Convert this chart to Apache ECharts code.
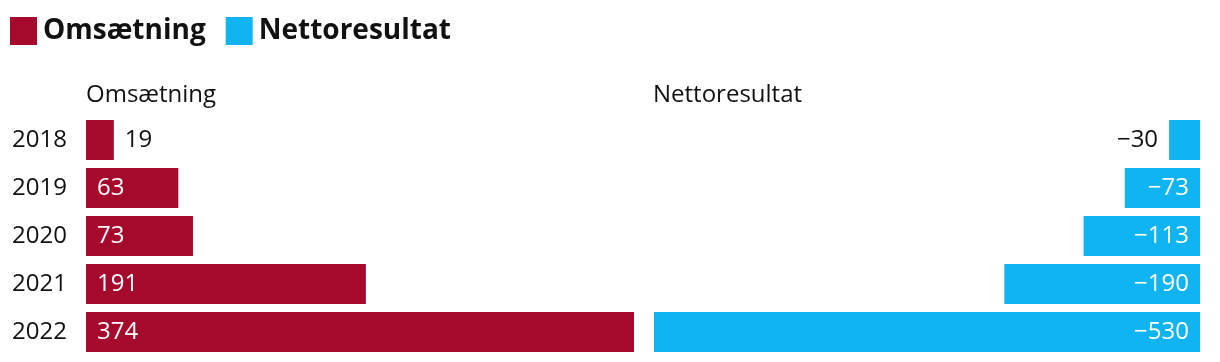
<!DOCTYPE html>
<html><head><meta charset="utf-8">
<script src="https://cdn.jsdelivr.net/npm/echarts@6/dist/echarts.min.js"></script>
<style>html,body{margin:0;padding:0;background:#fff}#c{width:1220px;height:362px}</style>
</head><body><div id="c"></div>
<script>
const years = ['2018','2019','2020','2021','2022'];
const omsaetning = [19, 63, 73, 191, 374];
const nettoresultat = [-30, -73, -113, -190, -530];
const seriesNames = ['Omsætning', 'Nettoresultat'];

const RED = '#a50a2d', BLUE = '#10b4f0', TXT = '#111';
const FONT = '"Open Sans", sans-serif';
const fmt = v => String(v).replace('-', '\u2212');

const chart = echarts.init(document.getElementById('c'), null, {renderer: 'canvas'});
chart.setOption({
  animation: false,
  textStyle: {fontFamily: FONT},
  legend: {
    left: 10, top: 17, padding: 0, itemWidth: 27, itemHeight: 28, itemGap: 20, icon: 'rect',
    textStyle: {fontFamily: FONT, fontSize: 28, fontWeight: 'bold', color: TXT, padding: [2,0,0,1]},
    data: seriesNames
  },
  title: [
    {text: seriesNames[0], left: 86, top: 83, padding: 0, textStyle: {fontFamily: FONT, fontSize: 24, fontWeight: 'normal', color: TXT}},
    {text: seriesNames[1], left: 653, top: 83, padding: 0, textStyle: {fontFamily: FONT, fontSize: 24, fontWeight: 'normal', color: TXT}}
  ],
  grid: [
    {left: 86, width: 548, top: 116, height: 240},
    {left: 654, width: 546, top: 116, height: 240}
  ],
  xAxis: [
    {gridIndex: 0, type: 'value', min: 0, max: 374, show: false},
    {gridIndex: 1, type: 'value', min: -530, max: 0, show: false}
  ],
  yAxis: [
    {gridIndex: 0, type: 'category', data: years, inverse: true,
     axisLine: {show: false}, axisTick: {show: false},
     axisLabel: {margin: 19, fontFamily: FONT, fontSize: 24, color: TXT}},
    {gridIndex: 1, type: 'category', data: years, inverse: true, show: false}
  ],
  series: [
    {name: seriesNames[0], type: 'bar', xAxisIndex: 0, yAxisIndex: 0, barCategoryGap: '16.67%',
     itemStyle: {color: RED},
     data: omsaetning.map(v => ({
       value: v,
       label: v < 40
         ? {show: true, position: 'right', distance: 11, color: TXT}
         : {show: true, position: 'insideLeft', distance: 11, color: '#fff'}
     })),
     label: {fontFamily: FONT, fontSize: 24, formatter: p => fmt(p.value)}
    },
    {name: seriesNames[1], type: 'bar', xAxisIndex: 1, yAxisIndex: 1, barCategoryGap: '16.67%',
     itemStyle: {color: BLUE},
     data: nettoresultat.map(v => ({
       value: v,
       label: v > -50
         ? {show: true, position: 'left', distance: 11, color: TXT}
         : {show: true, position: 'insideRight', distance: 11, color: '#fff'}
     })),
     label: {fontFamily: FONT, fontSize: 24, formatter: p => fmt(p.value)}
    }
  ]
});
</script></body></html>
